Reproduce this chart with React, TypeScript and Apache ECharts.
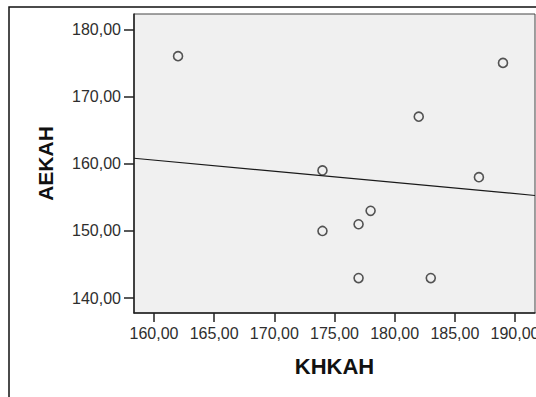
import React, { useEffect, useRef } from "react";
import * as echarts from "echarts";

// Scatter observations: KHKAH on x, AEKAH on y
const khkah: number[] = [162, 189, 182, 174, 187, 178, 177, 174, 177, 183];
const aekah: number[] = [176, 175, 167, 159, 158, 153, 151, 150, 143, 143];

const xTicks: number[] = [160, 165, 170, 175, 180, 185, 190];
const yTicks: number[] = [140, 150, 160, 170, 180];

const xRange: [number, number] = [158.34, 191.66];
const yRange: [number, number] = [137.8, 182.27];

const fmt = (v: number) => v.toFixed(2).replace(".", ",");

// Ordinary least-squares fit of aekah on khkah
function fitLine(xs: number[], ys: number[]) {
  const n = xs.length;
  const mx = xs.reduce((a, b) => a + b, 0) / n;
  const my = ys.reduce((a, b) => a + b, 0) / n;
  let sxy = 0;
  let sxx = 0;
  for (let i = 0; i < n; i++) {
    sxy += (xs[i] - mx) * (ys[i] - my);
    sxx += (xs[i] - mx) * (xs[i] - mx);
  }
  const slope = sxy / sxx;
  return (x: number) => my + slope * (x - mx);
}

export default function App() {
  const ref = useRef<HTMLDivElement>(null);

  useEffect(() => {
    if (!ref.current) return;
    const chart = echarts.init(ref.current, undefined, { renderer: "svg" });
    const f = fitLine(khkah, aekah);
    const font = "'Liberation Sans', Arial, sans-serif";

    chart.setOption({
      animation: false,
      backgroundColor: "#ffffff",
      textStyle: { fontFamily: font },
      graphic: [
        {
          type: "rect",
          shape: { x: 9, y: 7, width: 700, height: 500 },
          style: { fill: "none", stroke: "#111", lineWidth: 1.5 },
          z: -1,
        },
      ],
      grid: {
        left: 134,
        top: 14,
        right: 1,
        bottom: 84,
        containLabel: false,
        outerBoundsMode: "none",
        show: true,
        backgroundColor: "#f0f0f0",
        borderColor: "#444",
        borderWidth: 1,
      },
      xAxis: {
        type: "value",
        min: xRange[0],
        max: xRange[1],
        name: "KHKAH",
        nameLocation: "middle",
        nameGap: 42,
        nameTextStyle: { fontSize: 22, fontWeight: "bold", color: "#111", fontFamily: font },
        splitLine: { show: false },
        axisLine: { show: true, lineStyle: { color: "#222", width: 1.5 } },
        axisTick: { show: true, length: 9, customValues: xTicks, lineStyle: { color: "#222", width: 1.5 } },
        axisLabel: {
          customValues: xTicks,
          formatter: fmt,
          fontSize: 16,
          color: "#2e2e2e",
          margin: 12,
          hideOverlap: false,
          fontFamily: font,
        },
      },
      yAxis: {
        type: "value",
        min: yRange[0],
        max: yRange[1],
        name: "AEKAH",
        nameLocation: "middle",
        nameGap: 78,
        nameRotate: 90,
        nameTextStyle: { fontSize: 21, fontWeight: "bold", color: "#111", fontFamily: font },
        splitLine: { show: false },
        axisLine: { show: true, lineStyle: { color: "#222", width: 1.5 } },
        axisTick: { show: true, length: 10, customValues: yTicks, lineStyle: { color: "#222", width: 1.5 } },
        axisLabel: {
          customValues: yTicks,
          formatter: fmt,
          fontSize: 16,
          color: "#2e2e2e",
          margin: 13,
          fontFamily: font,
        },
      },
      series: [
        {
          type: "line",
          data: [
            [xRange[0], f(xRange[0])],
            [xRange[1], f(xRange[1])],
          ],
          symbol: "none",
          lineStyle: { color: "#1a1a1a", width: 1.2 },
          z: 2,
        },
        {
          type: "scatter",
          data: khkah.map((x, i) => [x, aekah[i]]),
          symbol: "circle",
          symbolSize: 9,
          itemStyle: { color: "rgba(0,0,0,0)", borderColor: "#2a2a2a", borderWidth: 1.6 },
          z: 3,
        },
      ],
    });

    return () => chart.dispose();
  }, []);

  return (
    <div
      ref={ref}
      style={{ position: "fixed", left: 0, top: 0, width: 536, height: 397 }}
    />
  );
}
